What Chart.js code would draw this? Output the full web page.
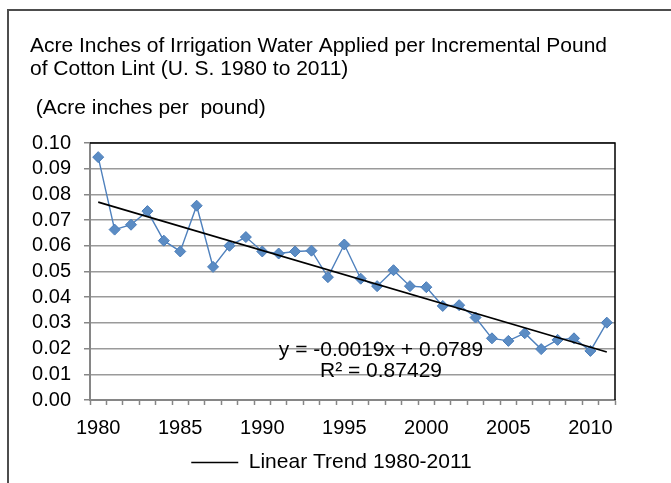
<!DOCTYPE html>
<html>
<head>
<meta charset="utf-8">
<script src="https://cdn.jsdelivr.net/npm/chart.js@4.4.1/dist/chart.umd.min.js"></script>
<style>
  html, body { margin: 0; padding: 0; background: #ffffff; }
  #wrap { position: relative; width: 671px; height: 483px; }
  canvas { display: block; }
</style>
</head>
<body>
<div id="wrap"><canvas id="c" width="671" height="483"></canvas></div>
<script>
// ---- Data ----
const years = ['1980','1981','1982','1983','1984','1985','1986','1987','1988','1989',
               '1990','1991','1992','1993','1994','1995','1996','1997','1998','1999',
               '2000','2001','2002','2003','2004','2005','2006','2007','2008','2009',
               '2010','2011'];
const waterPerPound = [0.0945, 0.0663, 0.0682, 0.0735, 0.0620, 0.0578, 0.0756, 0.0518, 0.0600, 0.0634,
                       0.0578, 0.0570, 0.0578, 0.0581, 0.0478, 0.0605, 0.0472, 0.0443, 0.0505, 0.0443,
                       0.0439, 0.0366, 0.0369, 0.0321, 0.0240, 0.0230, 0.0260, 0.0198, 0.0234, 0.0240,
                       0.0191, 0.0301];
// Linear trend line end points (1980 and 2011)
const trendStartEnd = [0.0770, 0.0187];
const yTickValues = [0.00, 0.01, 0.02, 0.03, 0.04, 0.05, 0.06, 0.07, 0.08, 0.09, 0.10];

const titleLines = ['Acre Inches of Irrigation Water Applied per Incremental Pound',
                    'of Cotton Lint (U. S. 1980 to 2011)'];
const subtitleText = ' (Acre inches per  pound)';
const trendLabel = 'Linear Trend 1980-2011';
const equationLines = ['y = -0.0019x + 0.0789', 'R\u00B2 = 0.87429'];

// trend dataset: only first and last points, joined by a straight line
const trendData = years.map((y, i) => i === 0 ? trendStartEnd[0] : (i === years.length - 1 ? trendStartEnd[1] : null));

const FONT = "'Liberation Sans', Arial, sans-serif";
const GRID = '#9a9a9a';
const AXIS = '#868686';

const framePlugin = {
  id: 'frame',
  beforeDraw(chart) {
    const ctx = chart.ctx;
    ctx.save();
    ctx.fillStyle = '#ffffff';
    ctx.fillRect(0, 0, chart.width, chart.height);
    ctx.strokeStyle = '#4d4d4d';
    ctx.lineWidth = 2;
    ctx.beginPath();
    ctx.moveTo(8, 483);
    ctx.lineTo(8, 10);
    ctx.lineTo(671, 10);
    ctx.stroke();
    ctx.restore();
  },
  beforeDatasetsDraw(chart) {
    const a = chart.chartArea;
    const ctx = chart.ctx;
    ctx.save();
    ctx.strokeStyle = '#000000';
    ctx.lineWidth = 1.5;
    ctx.beginPath();
    ctx.moveTo(a.left, a.top);
    ctx.lineTo(a.right, a.top);
    ctx.lineTo(a.right, a.bottom);
    ctx.stroke();
    ctx.restore();
  },
  afterDatasetsDraw(chart) {
    const ctx = chart.ctx;
    ctx.save();
    ctx.fillStyle = '#000000';
    ctx.font = '21px ' + FONT;
    ctx.textAlign = 'center';
    ctx.textBaseline = 'middle';
    ctx.fillText(equationLines[0], 381, 350);
    ctx.fillText(equationLines[1], 381, 371);
    ctx.restore();
  },
  afterLayout(chart) {
    if (chart.legend) { chart.legend.left += 9; chart.legend.right += 9; }
  }
};

new Chart(document.getElementById('c'), {
  type: 'line',
  data: {
    labels: years,
    datasets: [
      {
        label: trendLabel,
        data: trendData,
        spanGaps: true,
        borderColor: '#000000',
        backgroundColor: '#000000',
        borderWidth: 1.6,
        pointRadius: 0,
        pointHoverRadius: 0,
        fill: false,
        order: 0
      },
      {
        label: 'Acre inches per pound',
        data: waterPerPound,
        borderColor: '#4F81BD',
        backgroundColor: '#4F81BD',
        borderWidth: 1.4,
        pointStyle: 'rectRot',
        pointRadius: 5.5,
        pointBackgroundColor: '#5b8cc4',
        pointBorderColor: '#4a7dba',
        pointBorderWidth: 1,
        fill: false,
        tension: 0,
        order: 1
      }
    ]
  },
  options: {
    responsive: false,
    animation: false,
    events: [],
    layout: { padding: { left: 30, right: 56, top: 0, bottom: 0 } },
    plugins: {
      title: {
        display: true,
        text: titleLines,
        align: 'start',
        color: '#000000',
        font: { family: FONT, size: 21, weight: 'normal', lineHeight: 23 / 21 },
        padding: { top: 35, bottom: 0 }
      },
      subtitle: {
        display: true,
        text: subtitleText,
        align: 'start',
        color: '#000000',
        font: { family: FONT, size: 21, weight: 'normal', lineHeight: 24 / 21 },
        padding: { top: 15, bottom: 23 }
      },
      legend: {
        display: true,
        position: 'bottom',
        labels: {
          filter: (item) => item.datasetIndex === 0,
          color: '#000000',
          font: { family: FONT, size: 21 },
          usePointStyle: true,
          pointStyle: 'line',
          pointStyleWidth: 47,
          boxHeight: 21,
          padding: 10
        }
      },
      tooltip: { enabled: false }
    },
    scales: {
      x: {
        type: 'category',
        offset: true,
        afterFit(scale) { scale.height = 42; },
        grid: {
          display: true,
          offset: true,
          drawOnChartArea: false,
          drawTicks: true,
          tickLength: 5,
          tickColor: AXIS,
          tickWidth: 1.5
        },
        border: { display: true, color: AXIS, width: 2 },
        ticks: {
          autoSkip: false,
          maxRotation: 0,
          minRotation: 0,
          padding: 11,
          color: '#000000',
          font: { family: FONT, size: 20 },
          callback: function (value, index) {
            const lab = this.getLabelForValue(value);
            return (parseInt(lab, 10) % 5 === 0) ? lab : '';
          }
        }
      },
      y: {
        min: 0,
        max: 0.1,
        afterFit(scale) { scale.width = 60; },
        afterBuildTicks(scale) { scale.ticks = yTickValues.map(v => ({ value: v })); },
        grid: {
          color: GRID,
          lineWidth: 1.5,
          drawTicks: true,
          tickLength: 6,
          tickColor: AXIS,
          tickWidth: 1.5
        },
        border: { display: true, color: AXIS, width: 2 },
        ticks: {
          autoSkip: false,
          padding: 13,
          color: '#000000',
          font: { family: FONT, size: 20 },
          callback: (v) => Number(v).toFixed(2)
        }
      }
    }
  },
  plugins: [framePlugin]
});
</script>
</body>
</html>
